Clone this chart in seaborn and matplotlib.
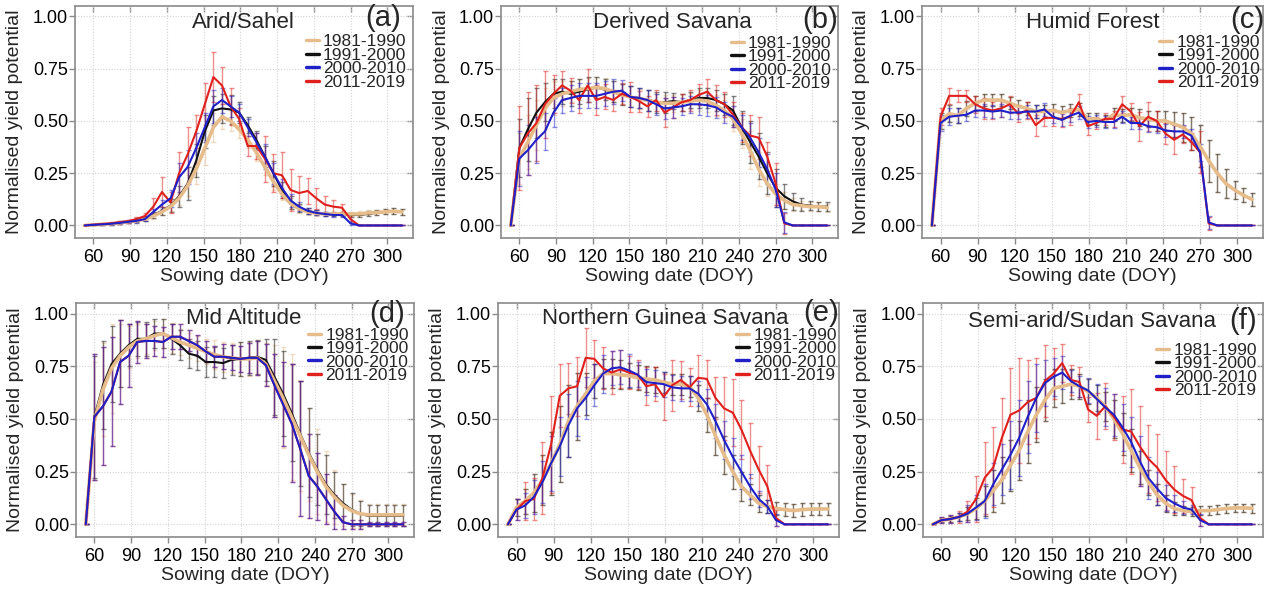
import matplotlib
matplotlib.use("Agg")
import matplotlib.pyplot as plt
import seaborn as sns
from matplotlib.lines import Line2D

sns.set_theme(style="white")
plt.rcParams['font.family'] = ['Liberation Sans', 'DejaVu Sans']

days = [53, 60, 67, 74, 81, 88, 95, 102, 109, 116, 123, 130, 137, 144, 151, 158, 165, 172, 179,
        186, 193, 200, 207, 214, 221, 228, 235, 242, 249, 256, 263, 270, 277, 284, 291, 298, 305, 312]

periods = ["1981-1990", "1991-2000", "2000-2010", "2011-2019"]
titles = ["Arid/Sahel", "Derived Savana", "Humid Forest", "Mid Altitude",
          "Northern Guinea Savana", "Semi-arid/Sudan Savana"]
letters = ["(a)", "(b)", "(c)", "(d)", "(e)", "(f)"]

# ---- (a) Arid/Sahel ----
tan_a = [0, .003, .005, .008, .012, .017, .022, .03, .045, .065, .09, .13, .19, .27, .37, .47, .52, .5, .46, .41, .35, .28, .21, .15, .105, .08, .065, .058, .055, .055, .055, .055, .055, .06, .062, .065, .068, .065]
tan_a_err = [0, .002, .003, .004, .005, .006, .008, .01, .012, .015, .02, .03, .05, .07, .08, .07, .06, .05, .04, .04, .04, .04, .04, .03, .025, .02, .015, .012, .01, .01, .01, .01, .012, .012, .012, .012, .015, .015]
blk_a = [0, .003, .005, .008, .015, .02, .025, .035, .05, .07, .095, .14, .2, .31, .45, .55, .56, .555, .54, .48, .41, .33, .25, .17, .11, .085, .07, .06, .055, .055, .055, .05, .05, .055, .06, .065, .07, .065]
blk_a_err = [0, .002, .003, .004, .006, .008, .01, .012, .015, .02, .03, .05, .08, .08, .08, .07, .07, .07, .05, .04, .04, .05, .06, .04, .03, .02, .015, .012, .01, .01, .01, .01, .01, .012, .012, .012, .015, .015]
blu_a = [0, .003, .005, .008, .012, .017, .022, .03, .065, .1, .13, .23, .28, .37, .47, .57, .6, .57, .54, .47, .4, .33, .25, .18, .12, .09, .07, .06, .055, .05, .05, .01, 0, 0, 0, 0, 0, 0]
blu_a_err = [0, .002, .003, .004, .005, .006, .008, .01, .015, .02, .04, .07, .08, .07, .07, .08, .06, .05, .04, .04, .04, .06, .05, .04, .03, .02, .015, .012, .01, .01, .01, .01, 0, 0, 0, 0, 0, 0]
red_a = [0, .004, .007, .01, .015, .02, .03, .045, .09, .16, .11, .25, .34, .45, .58, .71, .67, .57, .51, .38, .38, .32, .25, .24, .17, .155, .165, .13, .1, .09, .085, .03, 0, 0, 0, 0, 0, 0]
red_a_err = [0, .003, .004, .005, .006, .008, .01, .015, .04, .07, .05, .1, .13, .08, .1, .12, .09, .09, .05, .05, .06, .11, .09, .11, .1, .08, .06, .05, .04, .03, .02, .02, 0, 0, 0, 0, 0, 0]

# ---- (b) Derived Savana ----
tan_b = [0, .32, .4, .48, .56, .61, .63, .64, .65, .655, .66, .655, .64, .625, .615, .605, .6, .59, .585, .585, .59, .595, .6, .595, .575, .55, .51, .44, .36, .27, .2, .15, .12, .1, .095, .09, .09, .085]
tan_b_err = [0, .12, .13, .12, .1, .08, .06, .05, .05, .05, .05, .05, .05, .05, .05, .05, .05, .04, .04, .04, .04, .04, .05, .05, .05, .05, .06, .07, .09, .08, .06, .05, .04, .03, .02, .02, .02, .02]
blk_b = [0, .37, .46, .54, .59, .63, .64, .63, .64, .65, .66, .65, .64, .625, .615, .61, .6, .59, .59, .595, .59, .6, .61, .61, .6, .58, .55, .47, .4, .33, .25, .18, .14, .115, .1, .095, .09, .09]
blk_b_err = [0, .14, .15, .12, .09, .07, .06, .06, .06, .06, .05, .05, .05, .05, .05, .05, .05, .05, .05, .04, .04, .04, .05, .05, .05, .05, .07, .08, .1, .11, .1, .09, .06, .04, .03, .02, .02, .02]
blu_b = [0, .32, .36, .41, .45, .54, .6, .61, .62, .62, .62, .63, .64, .645, .615, .61, .6, .58, .56, .565, .57, .58, .58, .575, .565, .54, .52, .47, .42, .35, .27, .17, .015, 0, 0, 0, 0, 0]
blu_b_err = [0, .13, .12, .11, .09, .07, .06, .06, .06, .06, .06, .06, .06, .05, .05, .05, .05, .05, .05, .05, .04, .04, .05, .05, .05, .05, .05, .06, .07, .07, .07, .08, .05, 0, 0, 0, 0, 0]
red_b = [0, .37, .44, .49, .58, .63, .67, .645, .6, .67, .6, .615, .6, .63, .615, .595, .57, .6, .54, .565, .59, .6, .625, .64, .6, .58, .53, .47, .43, .42, .33, .2, .01, 0, 0, 0, 0, 0]
red_b_err = [0, .2, .2, .18, .16, .09, .07, .06, .06, .08, .07, .06, .05, .05, .07, .05, .05, .05, .07, .05, .04, .05, .05, .06, .07, .06, .06, .07, .1, .1, .07, .1, .05, 0, 0, 0, 0, 0]

# ---- (c) Humid Forest ----
tan_c = [0, .5, .535, .525, .56, .585, .6, .6, .6, .585, .57, .56, .545, .545, .55, .54, .55, .555, .51, .51, .5, .53, .525, .53, .515, .51, .5, .5, .485, .47, .44, .38, .31, .25, .2, .17, .145, .125]
tan_c_err = [0, .04, .04, .035, .035, .035, .03, .03, .03, .03, .03, .03, .03, .03, .03, .03, .03, .03, .03, .03, .03, .03, .03, .03, .04, .04, .05, .05, .06, .07, .08, .1, .1, .09, .07, .045, .035, .03]
blk_c = [0, .5, .535, .525, .56, .585, .6, .6, .6, .585, .57, .56, .545, .545, .55, .54, .55, .555, .51, .51, .5, .53, .525, .53, .515, .51, .5, .5, .485, .47, .44, .38, .31, .25, .2, .17, .145, .125]
blk_c_err = [0, .04, .04, .035, .035, .035, .03, .03, .03, .03, .03, .03, .03, .03, .03, .03, .03, .03, .03, .03, .03, .03, .03, .03, .04, .04, .05, .05, .06, .07, .08, .1, .1, .09, .07, .045, .035, .03]
blu_c = [0, .49, .52, .525, .53, .55, .55, .545, .55, .54, .54, .545, .545, .555, .52, .505, .525, .54, .495, .5, .495, .495, .52, .49, .49, .475, .47, .455, .45, .45, .43, .35, .015, 0, 0, 0, 0, 0]
blu_c_err = [0, .04, .04, .035, .03, .03, .03, .03, .03, .03, .03, .03, .03, .03, .03, .03, .03, .03, .03, .03, .03, .03, .03, .03, .03, .03, .03, .03, .03, .03, .03, .04, .03, 0, 0, 0, 0, 0]
red_c = [0, .52, .62, .62, .62, .58, .56, .55, .56, .58, .535, .55, .48, .515, .515, .51, .52, .59, .475, .49, .51, .51, .58, .545, .475, .52, .5, .44, .41, .435, .4, .35, .01, 0, 0, 0, 0, 0]
red_c_err = [0, .04, .04, .03, .03, .04, .05, .04, .04, .04, .04, .04, .05, .04, .04, .04, .04, .04, .04, .03, .03, .04, .04, .04, .07, .07, .05, .05, .07, .04, .04, .1, .03, 0, 0, 0, 0, 0]

# ---- (d) Mid Altitude ----
tan_d = [0, .49, .64, .74, .8, .84, .87, .88, .895, .905, .885, .865, .85, .835, .82, .805, .795, .79, .785, .785, .79, .76, .68, .6, .51, .42, .33, .25, .18, .13, .09, .065, .05, .045, .045, .045, .045, .045]
tan_d_err = [0, .28, .22, .21, .15, .1, .08, .07, .07, .07, .07, .06, .06, .06, .06, .07, .07, .07, .08, .08, .08, .1, .17, .24, .3, .26, .22, .2, .17, .13, .1, .08, .065, .05, .05, .05, .05, .05]
blk_d = [0, .51, .66, .76, .81, .85, .88, .88, .905, .905, .88, .85, .81, .8, .77, .77, .765, .78, .785, .79, .795, .78, .7, .62, .53, .43, .34, .26, .19, .14, .1, .07, .05, .04, .04, .04, .04, .04]
blk_d_err = [0, .29, .21, .18, .16, .1, .08, .08, .07, .07, .07, .07, .07, .07, .07, .07, .07, .07, .08, .08, .08, .1, .18, .2, .23, .25, .21, .17, .14, .11, .09, .08, .06, .05, .05, .05, .05, .05]
blu_d = [0, .51, .56, .63, .77, .8, .865, .87, .87, .865, .89, .89, .87, .85, .82, .795, .795, .79, .785, .79, .79, .755, .66, .57, .48, .36, .23, .18, .12, .06, .01, 0, 0, 0, 0, 0, 0, 0]
blu_d_err = [0, .3, .28, .26, .2, .15, .1, .08, .07, .07, .06, .06, .05, .05, .05, .05, .06, .06, .06, .07, .08, .1, .15, .2, .28, .32, .2, .16, .12, .08, .03, .02, .02, .01, .01, .01, .01, .01]
red_d = [0, .51, .56, .63, .77, .8, .865, .87, .87, .865, .89, .89, .87, .85, .82, .795, .795, .79, .785, .79, .79, .755, .66, .57, .48, .36, .23, .18, .12, .06, .01, 0, 0, 0, 0, 0, 0, 0]
red_d_err = [0, .3, .28, .26, .2, .15, .1, .08, .07, .07, .06, .06, .05, .05, .05, .05, .06, .06, .06, .07, .08, .1, .15, .2, .28, .32, .2, .16, .12, .08, .03, .02, .02, .01, .01, .01, .01, .01]

# ---- (e) Northern Guinea Savana ----
tan_e = [0, .08, .11, .15, .21, .29, .38, .49, .56, .62, .68, .715, .715, .71, .705, .695, .69, .685, .675, .665, .665, .655, .6, .52, .42, .33, .25, .18, .14, .1, .085, .075, .07, .065, .07, .072, .073, .073]
tan_e_err = [0, .04, .06, .09, .12, .15, .18, .17, .16, .1, .08, .07, .07, .07, .06, .06, .06, .06, .05, .05, .05, .05, .06, .08, .09, .09, .08, .07, .05, .04, .03, .03, .03, .03, .03, .03, .03, .03]
blk_e = [0, .08, .11, .15, .21, .29, .38, .49, .56, .62, .68, .715, .715, .71, .705, .695, .69, .685, .675, .665, .665, .655, .6, .52, .42, .33, .25, .18, .14, .1, .085, .075, .07, .065, .07, .072, .073, .073]
blk_e_err = [0, .04, .06, .09, .12, .15, .18, .17, .16, .1, .08, .07, .07, .07, .06, .06, .06, .06, .05, .05, .05, .05, .06, .08, .09, .09, .08, .07, .05, .04, .03, .03, .03, .03, .03, .03, .03, .03]
blu_e = [0, .07, .09, .13, .2, .29, .37, .47, .55, .6, .66, .715, .74, .745, .73, .71, .675, .67, .665, .65, .645, .645, .62, .57, .49, .4, .32, .25, .18, .12, .085, .02, 0, 0, 0, 0, 0, 0]
blu_e_err = [0, .05, .06, .08, .1, .13, .14, .15, .13, .1, .1, .09, .08, .08, .08, .06, .06, .06, .06, .06, .06, .06, .06, .07, .08, .09, .09, .08, .06, .04, .03, .03, 0, 0, 0, 0, 0, 0]
red_e = [0, .07, .11, .12, .22, .38, .61, .645, .655, .79, .785, .74, .72, .735, .72, .71, .655, .665, .605, .66, .685, .65, .695, .69, .6, .55, .53, .45, .35, .26, .18, .03, 0, 0, 0, 0, 0, 0]
red_e_err = [0, .05, .09, .1, .17, .23, .15, .12, .14, .14, .09, .1, .1, .09, .08, .07, .09, .08, .11, .12, .09, .09, .11, .09, .1, .15, .16, .14, .13, .11, .1, .04, 0, 0, 0, 0, 0, 0]

# ---- (f) Semi-arid/Sudan Savana ----
tan_f = [0, .02, .025, .035, .05, .075, .11, .16, .21, .28, .35, .44, .52, .59, .645, .655, .665, .655, .63, .6, .56, .5, .43, .35, .27, .2, .14, .1, .075, .065, .06, .065, .065, .07, .075, .078, .078, .076]
tan_f_err = [0, .01, .015, .02, .03, .05, .07, .1, .11, .12, .14, .15, .13, .1, .09, .08, .07, .06, .06, .06, .07, .09, .1, .1, .08, .06, .05, .04, .03, .02, .02, .02, .02, .02, .02, .02, .02, .02]
blk_f = [0, .02, .025, .035, .05, .075, .11, .16, .21, .28, .35, .44, .52, .59, .645, .655, .665, .655, .63, .6, .56, .5, .43, .35, .27, .2, .14, .1, .075, .065, .06, .065, .065, .07, .075, .078, .078, .076]
blk_f_err = [0, .01, .015, .02, .03, .05, .07, .1, .11, .12, .14, .15, .13, .1, .09, .08, .07, .06, .06, .06, .07, .09, .1, .1, .08, .06, .05, .04, .03, .02, .02, .02, .02, .02, .02, .02, .02, .02]
blu_f = [0, .02, .025, .035, .05, .08, .11, .19, .26, .33, .41, .51, .6, .67, .7, .72, .68, .655, .635, .595, .555, .52, .46, .39, .3, .22, .17, .125, .1, .08, .07, .02, 0, 0, 0, 0, 0, 0]
blu_f_err = [0, .015, .02, .02, .04, .06, .08, .1, .12, .16, .18, .17, .16, .11, .09, .08, .05, .05, .06, .07, .09, .1, .11, .12, .12, .1, .08, .06, .04, .03, .02, .03, 0, 0, 0, 0, 0, 0]
red_f = [0, .02, .025, .035, .06, .12, .22, .27, .41, .52, .54, .58, .6, .68, .715, .765, .685, .675, .545, .515, .56, .51, .45, .44, .37, .31, .27, .21, .165, .135, .115, .03, 0, 0, 0, 0, 0, 0]
red_f_err = [0, .015, .02, .03, .05, .11, .17, .19, .19, .22, .25, .2, .19, .17, .12, .09, .07, .07, .06, .11, .11, .11, .16, .2, .19, .16, .16, .14, .11, .08, .06, .04, 0, 0, 0, 0, 0, 0]

panels = [
    (tan_a, tan_a_err, blk_a, blk_a_err, blu_a, blu_a_err, red_a, red_a_err),
    (tan_b, tan_b_err, blk_b, blk_b_err, blu_b, blu_b_err, red_b, red_b_err),
    (tan_c, tan_c_err, blk_c, blk_c_err, blu_c, blu_c_err, red_c, red_c_err),
    (tan_d, tan_d_err, blk_d, blk_d_err, blu_d, blu_d_err, red_d, red_d_err),
    (tan_e, tan_e_err, blk_e, blk_e_err, blu_e, blu_e_err, red_e, red_e_err),
    (tan_f, tan_f_err, blk_f, blk_f_err, blu_f, blu_f_err, red_f, red_f_err),
]

colors = ["#E6BC8A", "#111111", "#2020C8", "#E0201C"]
lws = [2.6, 1.5, 1.5, 1.5]

W, H = 1272, 592
fig = plt.figure(figsize=(W / 100, H / 100), dpi=100)

# axes boxes in pixels: left, right, top, bottom
boxes = [(75, 413, 6, 238), (501, 838, 6, 238), (922, 1263, 6, 238),
         (76, 414, 303, 537), (498, 839, 303, 537), (923, 1263, 303, 537)]
title_pos = [(0.497, 0.931), (0.508, 0.928), (0.5, 0.928),
             (0.497, 0.934), (0.49, 0.934), (0.497, 0.92)]
letter_pos = [(0.911, 0.948), (0.947, 0.941), (0.954, 0.94),
              (0.92, 0.952), (0.948, 0.958), (0.94, 0.925)]
legend_pos = [(0.981, 0.878), (0.981, 0.872), (0.992, 0.876),
              (0.985, 0.895), (0.994, 0.895), (0.983, 0.83)]

frame_col = "#8a8a8a"

for i, (l, r, t, b) in enumerate(boxes):
    ax = fig.add_axes([l / W, 1 - b / H, (r - l) / W, (b - t) / H])
    tan, tan_e_, blk, blk_e_, blu, blu_e_, red, red_e_ = panels[i]
    series = [(tan, tan_e_), (blk, blk_e_), (blu, blu_e_), (red, red_e_)]
    # error bars first
    for k in [0, 1, 3, 2]:
        y, e = series[k]
        ax.errorbar(days, y, yerr=e, fmt="none", ecolor=colors[k], alpha=0.5,
                    elinewidth=1.0, capsize=1.8, capthick=1.0, zorder=2)
    # lines: black, tan, red, blue
    for k, z in [(1, 3), (0, 4), (3, 5), (2, 6)]:
        y, e = series[k]
        sns.lineplot(x=days, y=y, color=colors[k], linewidth=lws[k], ax=ax,
                     zorder=z, legend=False)
    ax.set_xlim(45, 321)
    ax.set_ylim(-0.06, 1.05)
    ax.set_xticks([60, 90, 120, 150, 180, 210, 240, 270, 300])
    ax.set_yticks([0, 0.25, 0.5, 0.75, 1.0])
    ax.set_yticklabels(["0.00", "0.25", "0.50", "0.75", "1.00"])
    ax.grid(True, linestyle=(0, (1, 1.5)), color="#d4d4d4", linewidth=0.8)
    ax.set_axisbelow(True)
    for s in ax.spines.values():
        s.set_color(frame_col)
        s.set_linewidth(1.2)
    ax.tick_params(axis="both", direction="out", length=4, width=1, color=frame_col,
                   labelsize=13, labelcolor="black", left=True, bottom=True)
    ax.tick_params(axis="y", pad=1)
    ax.tick_params(axis="x", pad=4)
    sx = ax.secondary_xaxis("top")
    sx.set_xticks([60, 90, 120, 150, 180, 210, 240, 270, 300])
    sx.tick_params(direction="in", length=4, width=1, color=frame_col, labeltop=False)
    sx.spines["top"].set_visible(False)
    sy = ax.secondary_yaxis("right")
    sy.set_yticks([0, 0.25, 0.5, 0.75, 1.0])
    sy.tick_params(direction="in", length=4, width=1, color=frame_col, labelright=False)
    sy.spines["right"].set_visible(False)

    ax.set_xlabel("Sowing date (DOY)", fontsize=14, va="center")
    ax.xaxis.set_label_coords(0.5, -0.165)
    ax.set_ylabel("Normalised yield potential", fontsize=14, va="center")
    ax.yaxis.set_label_coords(-0.178, 0.5)

    ax.text(title_pos[i][0], title_pos[i][1], titles[i], transform=ax.transAxes,
            ha="center", va="center", fontsize=16, zorder=10)
    ax.text(letter_pos[i][0], letter_pos[i][1], letters[i], transform=ax.transAxes,
            ha="center", va="center", fontsize=21, zorder=10)

    handles = [Line2D([0], [0], color=c, lw=2.4) for c in colors]
    ax.legend(handles, periods, loc="upper right", bbox_to_anchor=legend_pos[i],
              frameon=False, fontsize=12.5, handlelength=0.75, handletextpad=0.25,
              labelspacing=-0.1, borderpad=0, borderaxespad=0)

fig.savefig("out.png", dpi=100)
